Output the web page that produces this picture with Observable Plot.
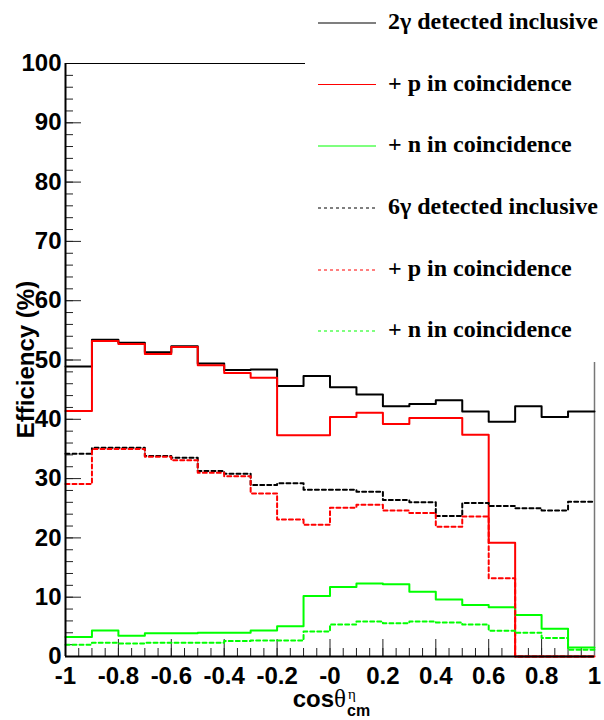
<!DOCTYPE html>
<html><head><meta charset="utf-8">
<script src="https://cdn.jsdelivr.net/npm/d3@7"></script>
<script src="https://cdn.jsdelivr.net/npm/@observablehq/plot@0.6"></script>
<style>body{margin:0;background:#fff;}</style>
</head><body><div id="chart"></div>
<script>
// bin edges of cos(theta_cm^eta)
const binEdges = [-1,-0.9,-0.8,-0.7,-0.6,-0.5,-0.4,-0.3,-0.2,-0.1,0,0.1,0.2,0.3,0.4,0.5,0.6,0.7,0.8,0.9,1];
// efficiencies (%) per bin
const gamma2Incl = [48.9,53.4,52.9,51.3,52.3,49.4,48.3,48.4,45.6,47.3,45.4,44.2,42.2,42.6,43.2,41.3,39.6,42.2,40.4,41.3];
const gamma2P    = [41.4,53.2,52.7,51.0,52.2,49.1,47.8,47.0,37.3,37.3,40.4,41.1,39.2,40.2,40.2,37.4,19.2,0,0,0];
const gamma2N    = [3.3,4.4,3.5,3.9,3.9,4.0,4.0,4.4,5.1,10.2,11.7,12.3,12.2,10.9,9.6,8.7,8.3,7.0,4.7,1.5];
const gamma6Incl = [34.2,35.2,35.2,33.8,33.5,31.3,30.8,28.9,29.2,28.1,28.1,27.8,26.4,26.0,23.7,25.9,25.4,25.0,24.6,26.1];
const gamma6P    = [29.1,35.0,35.0,33.7,33.1,31.0,30.4,27.5,23.1,22.2,25.1,25.6,24.6,24.2,21.9,23.6,13.2,0,0,0];
const gamma6N    = [2.0,2.3,2.2,2.3,2.3,2.3,2.6,2.7,2.7,4.2,5.4,5.9,5.6,5.9,5.75,5.4,4.35,4.0,3.1,1.15];

const seriesNames = ["2γ detected inclusive","+ p in coincidence","+ n in coincidence","6γ detected inclusive","+ p in coincidence","+ n in coincidence"];
const seriesValues = [gamma2Incl,gamma2P,gamma2N,gamma6Incl,gamma6P,gamma6N];
const seriesColors = ["#000000","#ff0000","#00ff00","#000000","#ff0000","#00ff00"];
const seriesDashed = [false,false,false,true,true,true];

const xTicks = [-1,-0.8,-0.6,-0.4,-0.2,0,0.2,0.4,0.6,0.8,1];
const xTickLabels = ["-1","-0.8","-0.6","-0.4","-0.2","-0","0.2","0.4","0.6","0.8","1"];
const yTicks = [0,10,20,30,40,50,60,70,80,90,100];
const yTitle = "Efficiency (%)";

const W = 604, H = 720, mL = 65, mR = 10, mT = 63, mB = 64;
const plotW = W - mL - mR, plotH = H - mT - mB;
const xMinor = d3.range(0, 41).map(i => -1 + i * 0.05);
const yMinor = d3.range(0, 51).map(i => i * 2);

function stepRows(values, k) {
  const rows = values.map((v, i) => ({x: binEdges[i], y: v, k}));
  rows.push({x: binEdges[values.length], y: values[values.length - 1], k});
  return rows;
}

const histMarks = seriesValues.map((vals, k) => Plot.line(stepRows(vals, k), {
  x: "x", y: "y", curve: "step-after",
  stroke: seriesColors[k], strokeWidth: 2,
  strokeDasharray: seriesDashed[k] ? "4,3" : null
}));

const chart = Plot.plot({
  width: W, height: H,
  marginLeft: mL, marginRight: mR, marginTop: mT, marginBottom: mB,
  style: {fontFamily: "'Liberation Sans', Arial, sans-serif", fontWeight: "bold", background: "#fff"},
  x: {domain: [-1, 1]},
  y: {domain: [0, 100]},
  marks: [
    Plot.ruleX(xMinor, {x: d => d, insetTop: plotH - 8, stroke: "#222", strokeWidth: 1}),
    Plot.ruleX(xTicks, {x: d => d, insetTop: plotH - 17, stroke: "#222", strokeWidth: 1}),
    Plot.ruleY(yMinor, {y: d => d, insetRight: plotW - 8, stroke: "#222", strokeWidth: 1}),
    Plot.ruleY(yTicks, {y: d => d, insetRight: plotW - 16, stroke: "#222", strokeWidth: 1}),
    Plot.ruleY([100], {stroke: "#000", strokeWidth: 1}),
    Plot.ruleX([1], {stroke: "#777", strokeWidth: 1.5}),
    Plot.axisX({ticks: xTicks, tickSize: 0, tickPadding: 10, fontSize: 24, fontWeight: "bold",
      tickFormat: d => xTickLabels[xTicks.indexOf(d)], label: null}),
    Plot.axisY({ticks: yTicks, tickSize: 0, tickPadding: 4, fontSize: 24, fontWeight: "bold", label: null}),
    ...histMarks,
    Plot.ruleX([-1], {stroke: "#000", strokeWidth: 2}),
    Plot.ruleY([0], {stroke: "#000", strokeWidth: 2}),
  ]
});

document.getElementById("chart").appendChild(chart);
const svg = d3.select(chart);
const ys = chart.scale("y");
const SANS = "'Liberation Sans', Arial, sans-serif";
const SERIF = "'Liberation Serif', 'Times New Roman', serif";

// y-axis title
svg.append("text")
  .attr("transform", `translate(34,${ys.apply(50)}) rotate(-90)`)
  .attr("text-anchor", "middle").attr("font-family", SANS).attr("font-weight", "bold")
  .attr("font-size", 24).attr("fill", "#000").text(yTitle);

// x-axis title with superscript / subscript
const xt = svg.append("g").attr("fill", "#000");
xt.append("text").attr("x", 346).attr("y", 707).attr("text-anchor", "end")
  .attr("font-family", SANS).attr("font-weight", "bold").attr("font-size", 24)
  .text("cos")
  .append("tspan").attr("font-family", SERIF).attr("font-weight", "normal").attr("font-size", 25).text("θ");
xt.append("text").attr("x", 348).attr("y", 699).attr("text-anchor", "start")
  .attr("font-family", SERIF).attr("font-weight", "normal").attr("font-size", 15).text("η");
xt.append("text").attr("x", 347).attr("y", 716).attr("text-anchor", "start")
  .attr("font-family", SANS).attr("font-weight", "bold").attr("font-size", 16).text("cm");

// legend box
const lg = svg.append("g");
lg.append("rect").attr("x", 305).attr("y", 0).attr("width", W - 305).attr("height", 362).attr("fill", "#fff");
const rowY = [23, 84.5, 146, 208, 270, 331];
seriesNames.forEach((name, k) => {
  lg.append("line").attr("x1", 318).attr("x2", 376).attr("y1", rowY[k]).attr("y2", rowY[k])
    .attr("stroke", seriesColors[k]).attr("stroke-width", 1.2)
    .attr("stroke-dasharray", seriesDashed[k] ? "3,3" : null);
  lg.append("text").attr("x", 388).attr("y", rowY[k] + 6).attr("text-anchor", "start")
    .attr("font-family", SERIF).attr("font-weight", "bold")
    .attr("font-size", 24).attr("fill", "#000").text(name);
});
</script></body></html>
